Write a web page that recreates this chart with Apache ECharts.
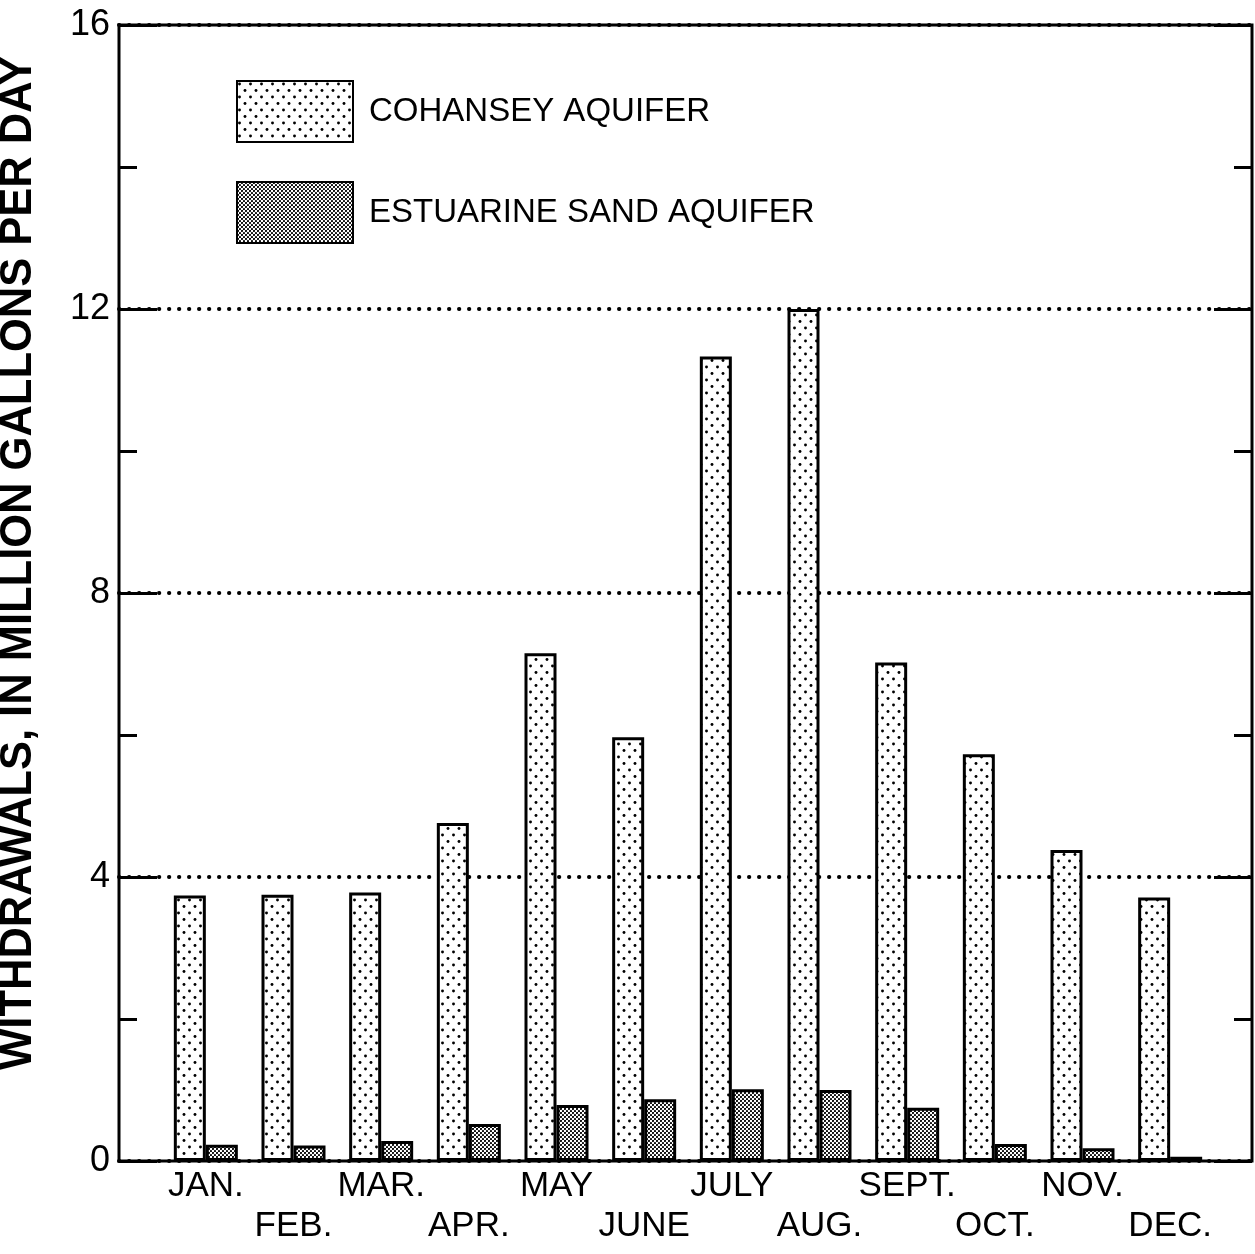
<!DOCTYPE html>
<html>
<head>
<meta charset="utf-8">
<title>Monthly withdrawals by aquifer</title>
<script src="https://cdn.jsdelivr.net/npm/echarts@6/dist/echarts.min.js"></script>
<style>
  html, body { margin: 0; padding: 0; background: #fff; }
  #chart { width: 1255px; height: 1254px; }
</style>
</head>
<body>
<div id="chart"></div>
<script>
// Monthly withdrawals, million gallons per day
const months = ['JAN.', 'FEB.', 'MAR.', 'APR.', 'MAY', 'JUNE', 'JULY', 'AUG.', 'SEPT.', 'OCT.', 'NOV.', 'DEC.'];
const cohansey = [3.74, 3.75, 3.78, 4.76, 7.15, 5.97, 11.33, 12.0, 7.02, 5.73, 4.38, 3.71];
const estuarine = [0.23, 0.22, 0.28, 0.52, 0.79, 0.87, 1.01, 1.0, 0.75, 0.24, 0.18, 0.06];
const seriesNames = ['COHANSEY AQUIFER', 'ESTUARINE SAND AQUIFER'];
const yMin = 0, yMax = 16, yStep = 4;

const FONT = '"Liberation Sans", Arial, Helvetica, sans-serif';

// Sparse staggered dot screen
function sparseDots() {
  const c = document.createElement('canvas');
  c.width = 11; c.height = 13;
  const g = c.getContext('2d');
  g.fillStyle = '#fff'; g.fillRect(0, 0, 11, 13);
  g.fillStyle = '#000';
  [[2.5, 3], [8, 9.5]].forEach(function (p) {
    g.beginPath(); g.arc(p[0], p[1], 1.45, 0, Math.PI * 2); g.fill();
  });
  return c;
}
// Fine dense halftone
function denseDots() {
  const c = document.createElement('canvas');
  c.width = 4; c.height = 4;
  const g = c.getContext('2d');
  g.fillStyle = '#fff'; g.fillRect(0, 0, 4, 4);
  g.fillStyle = '#000';
  [[1, 1], [3, 3]].forEach(function (p) {
    g.beginPath(); g.arc(p[0], p[1], 1.1, 0, Math.PI * 2); g.fill();
  });
  return c;
}

const chart = echarts.init(document.getElementById('chart'), null, { renderer: 'canvas' });

const frameAxis = function (pos, withLabels) {
  return {
    type: 'value', gridIndex: 0, position: pos,
    min: yMin, max: yMax, interval: yStep,
    axisLine: { show: false },
    axisTick: { show: true, inside: true, length: 38, lineStyle: { color: '#000', width: 3 } },
    minorTick: { show: true, splitNumber: 2, length: 18, lineStyle: { color: '#000', width: 3 } },
    axisLabel: {
      show: withLabels, margin: 9, color: '#000',
      fontFamily: FONT, fontSize: 36
    },
    splitLine: withLabels ? {
      show: true,
      lineStyle: { color: '#000', width: 4, type: [0.3, 9.7], cap: 'round' }
    } : { show: false }
  };
};

chart.setOption({
  backgroundColor: '#fff',
  animation: false,
  grid: [
    { left: 119, top: 25, width: 1133, height: 1136, show: true,
      borderColor: '#000', borderWidth: 3, backgroundColor: 'transparent' },
    { left: 162, top: 25, width: 1052, height: 1136 }
  ],
  legend: {
    orient: 'vertical', left: 236, top: 80, padding: 0,
    icon: 'rect',
    itemWidth: 116, itemHeight: 61, itemGap: 38,
    data: seriesNames,
    textStyle: { color: '#000', fontFamily: FONT, fontSize: 33, padding: [0, 0, 0, 11] }
  },
  graphic: [{
    type: 'text', x: 19, y: 563, rotation: Math.PI / 2,
    style: {
      text: 'WITHDRAWALS, IN MILLION GALLONS PER DAY',
      fill: '#000', font: 'bold 43.5px ' + FONT,
      textAlign: 'center', textVerticalAlign: 'middle'
    }
  }],
  xAxis: [
    { type: 'value', gridIndex: 0, show: false, min: 0, max: 1 },
    {
      type: 'category', gridIndex: 1, data: months,
      axisLine: { show: false }, axisTick: { show: false },
      axisLabel: {
        interval: 0, margin: 5, color: '#000',
        fontFamily: FONT, fontSize: 35, lineHeight: 40,
        formatter: function (v, i) { return i % 2 === 0 ? v : '\n' + v; }
      }
    }
  ],
  yAxis: [
    frameAxis('left', true),
    frameAxis('right', false),
    { type: 'value', gridIndex: 1, min: yMin, max: yMax, show: false }
  ],
  series: [
    {
      name: seriesNames[0], type: 'bar', xAxisIndex: 1, yAxisIndex: 2,
      data: cohansey, barWidth: 32, barGap: '0%',
      itemStyle: { color: { image: sparseDots(), repeat: 'repeat' }, borderColor: '#000', borderWidth: 3 }
    },
    {
      name: seriesNames[1], type: 'bar', xAxisIndex: 1, yAxisIndex: 2,
      data: estuarine, barWidth: 32, barGap: '0%',
      itemStyle: { color: { image: denseDots(), repeat: 'repeat' }, borderColor: '#000', borderWidth: 3 }
    }
  ]
});
</script>
</body>
</html>
